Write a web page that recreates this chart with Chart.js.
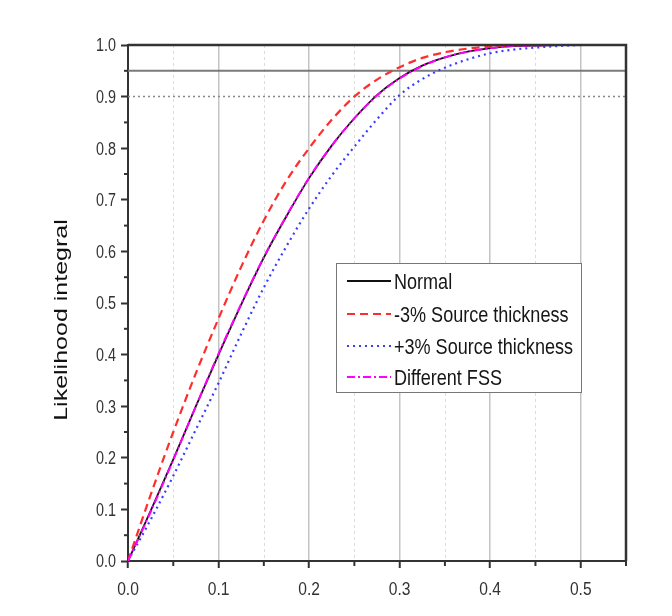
<!DOCTYPE html>
<html>
<head>
<meta charset="utf-8">
<script src="https://cdn.jsdelivr.net/npm/chart.js@4.4.1/dist/chart.umd.min.js"></script>
<style>
  html, body { margin: 0; padding: 0; background: #fff; }
  #wrap { width: 672px; height: 616px; }
</style>
</head>
<body>
<div id="wrap"><canvas id="likelihoodChart" width="672" height="616"></canvas></div>
<script>
// Likelihood integral vs. parameter, four variants of the analysis
const xValues   = [0, 0.025, 0.05, 0.075, 0.1, 0.125, 0.15, 0.175, 0.2, 0.225, 0.25,
                   0.275, 0.3, 0.325, 0.35, 0.375, 0.4, 0.425, 0.45, 0.475, 0.5];
const normal    = [0, 0.097, 0.197, 0.300, 0.400, 0.497, 0.588, 0.668, 0.742, 0.805, 0.858,
                   0.903, 0.936, 0.960, 0.976, 0.987, 0.994, 0.998, 0.999, 1.0, 1.0];
const minus3    = [0, 0.128, 0.250, 0.364, 0.470, 0.570, 0.660, 0.737, 0.800, 0.855, 0.900,
                   0.933, 0.957, 0.975, 0.986, 0.993, 0.997, 0.999, 1.0, 1.0, 1.0];
const plus3     = [0, 0.080, 0.165, 0.255, 0.345, 0.440, 0.530, 0.610, 0.683, 0.747, 0.803,
                   0.856, 0.903, 0.934, 0.956, 0.972, 0.984, 0.991, 0.995, 0.998, 1.0];
const diffFSS   = [0, 0.095, 0.196, 0.300, 0.402, 0.498, 0.589, 0.669, 0.743, 0.805, 0.858,
                   0.902, 0.935, 0.959, 0.976, 0.987, 0.994, 0.998, 0.999, 1.0, 1.0];
const seriesNames = ['Normal', '-3% Source thickness', '+3% Source thickness', 'Different FSS'];

// confidence levels drawn across the plot
const level95 = 0.95;
const level90 = 0.9;

// axis ranges and minor tick positions
const xRange = [0, 0.55];
const yRange = [0, 1];
const xMinor = [0.05, 0.15, 0.25, 0.35, 0.45, 0.55];
const yMinor = [0.05, 0.15, 0.25, 0.35, 0.45, 0.55, 0.65, 0.75, 0.85, 0.95];

const sans = '"Liberation Sans", Arial, sans-serif';
const pts = ys => xValues.map((x, i) => ({ x: x, y: ys[i] }));
const hline = y => [{ x: xRange[0], y: y }, { x: xRange[1], y: y }];

const datasets = [
  { label: seriesNames[0], data: pts(normal), borderColor: '#111', borderWidth: 1.8,
    borderDash: [], order: 3 },
  { label: seriesNames[1], data: pts(minus3), borderColor: '#ff2e2e', borderWidth: 2.2,
    borderDash: [8, 5], order: 1 },
  { label: seriesNames[2], data: pts(plus3), borderColor: '#3b3bff', borderWidth: 2.2,
    borderDash: [2, 4], order: 2 },
  { label: seriesNames[3], data: pts(diffFSS), borderColor: '#ff00ff', borderWidth: 2,
    borderDash: [8, 3, 2, 3], order: 0 },
  { label: '95%', data: hline(level95), borderColor: '#7a7a7a', borderWidth: 2,
    borderDash: [], order: 5 },
  { label: '90%', data: hline(level90), borderColor: '#888', borderWidth: 1.5,
    borderDash: [2, 3], order: 5 }
].map(d => Object.assign({
  pointRadius: 0, fill: false, tension: 0, cubicInterpolationMode: 'monotone'
}, d));

// condensed text, like the narrow face the plot was made with
function narrowText(ctx, text, px, py, size, align) {
  ctx.save();
  ctx.translate(px, py);
  ctx.scale(0.82, 1);
  ctx.font = size + 'px ' + sans;
  ctx.textAlign = align;
  ctx.textBaseline = 'alphabetic';
  ctx.fillText(text, 0, 0);
  ctx.restore();
}

// frame, minor ticks, tick labels, axis title and the boxed legend
const decorations = {
  id: 'decorations',
  beforeDatasetsDraw(chart) {
    const { ctx, chartArea: a, scales: { x } } = chart;
    ctx.save();
    ctx.strokeStyle = '#dcdcdc';
    ctx.lineWidth = 1;
    ctx.setLineDash([3, 3]);
    xMinor.forEach(v => {
      const px = Math.round(x.getPixelForValue(v)) + 0.5;
      if (px > a.right - 3) return;
      ctx.beginPath(); ctx.moveTo(px, a.top); ctx.lineTo(px, a.bottom); ctx.stroke();
    });
    ctx.restore();
  },
  afterDraw(chart) {
    const { ctx, chartArea: a, scales: { x, y } } = chart;
    ctx.save();

    // minor tick marks
    ctx.strokeStyle = '#333';
    ctx.lineWidth = 2;
    xMinor.forEach(v => {
      const px = x.getPixelForValue(v);
      ctx.beginPath(); ctx.moveTo(px, a.bottom); ctx.lineTo(px, a.bottom + 5); ctx.stroke();
    });
    yMinor.forEach(v => {
      const py = y.getPixelForValue(v);
      ctx.beginPath(); ctx.moveTo(a.left, py); ctx.lineTo(a.left - 4, py); ctx.stroke();
    });

    // top and right frame
    ctx.lineWidth = 2.5;
    ctx.beginPath();
    ctx.moveTo(a.left, a.top); ctx.lineTo(a.right, a.top); ctx.lineTo(a.right, a.bottom);
    ctx.stroke();

    // tick labels
    ctx.fillStyle = '#333';
    y.ticks.forEach(t => {
      narrowText(ctx, t.value.toFixed(1), a.left - 12, y.getPixelForValue(t.value) + 6.3, 17.5, 'right');
    });
    x.ticks.forEach(t => {
      narrowText(ctx, t.value.toFixed(1), x.getPixelForValue(t.value), a.bottom + 34, 19, 'center');
    });

    // y axis title
    ctx.save();
    ctx.translate(62, 320);
    ctx.rotate(-Math.PI / 2);
    ctx.scale(1.39, 1);
    ctx.font = '18px ' + sans;
    ctx.fillStyle = '#111';
    ctx.textAlign = 'center';
    ctx.textBaseline = 'middle';
    ctx.fillText('Likelihood integral', 0, 0);
    ctx.restore();

    // legend box
    const box = { left: 336, top: 263, width: 245, height: 129 };
    ctx.fillStyle = '#fff';
    ctx.fillRect(box.left, box.top, box.width, box.height);
    ctx.strokeStyle = '#777';
    ctx.lineWidth = 1;
    ctx.setLineDash([]);
    ctx.strokeRect(box.left + 0.5, box.top + 0.5, box.width, box.height);

    const rows = [281, 314, 346, 377];
    [0, 1, 2, 3].forEach((di, i) => {
      const ds = chart.data.datasets[di];
      const yy = rows[i];
      ctx.strokeStyle = ds.borderColor;
      ctx.lineWidth = ds.borderWidth;
      ctx.setLineDash(ds.borderDash);
      ctx.beginPath(); ctx.moveTo(347, yy); ctx.lineTo(391, yy); ctx.stroke();
      ctx.setLineDash([]);
      ctx.fillStyle = '#161616';
      narrowText(ctx, ds.label, 394, yy + 8, 22, 'left');
    });
    ctx.restore();
  }
};

const ctx = document.getElementById('likelihoodChart').getContext('2d');
new Chart(ctx, {
  type: 'line',
  data: { datasets: datasets },
  options: {
    responsive: false,
    devicePixelRatio: 1,
    animation: false,
    layout: { padding: { top: 45, right: 46, left: 0, bottom: 0 } },
    plugins: { legend: { display: false }, tooltip: { enabled: false } },
    scales: {
      x: {
        type: 'linear',
        min: xRange[0], max: xRange[1],
        afterFit(scale) { scale.height = 55; },
        border: { color: '#333', width: 2 },
        grid: {
          color: c => c.tick && c.tick.value === 0 ? 'rgba(0,0,0,0)' : '#c4c4c4',
          lineWidth: 1.5,
          tickColor: '#333', tickWidth: 2, tickLength: 7
        },
        ticks: { display: false, stepSize: 0.1, includeBounds: false }
      },
      y: {
        type: 'linear',
        min: yRange[0], max: yRange[1],
        afterFit(scale) { scale.width = 128; },
        border: { color: '#333', width: 2 },
        grid: {
          drawOnChartArea: false,
          tickColor: '#333', tickWidth: 2, tickLength: 7
        },
        ticks: { display: false, stepSize: 0.1, includeBounds: false }
      }
    }
  },
  plugins: [decorations]
});
</script>
</body>
</html>
